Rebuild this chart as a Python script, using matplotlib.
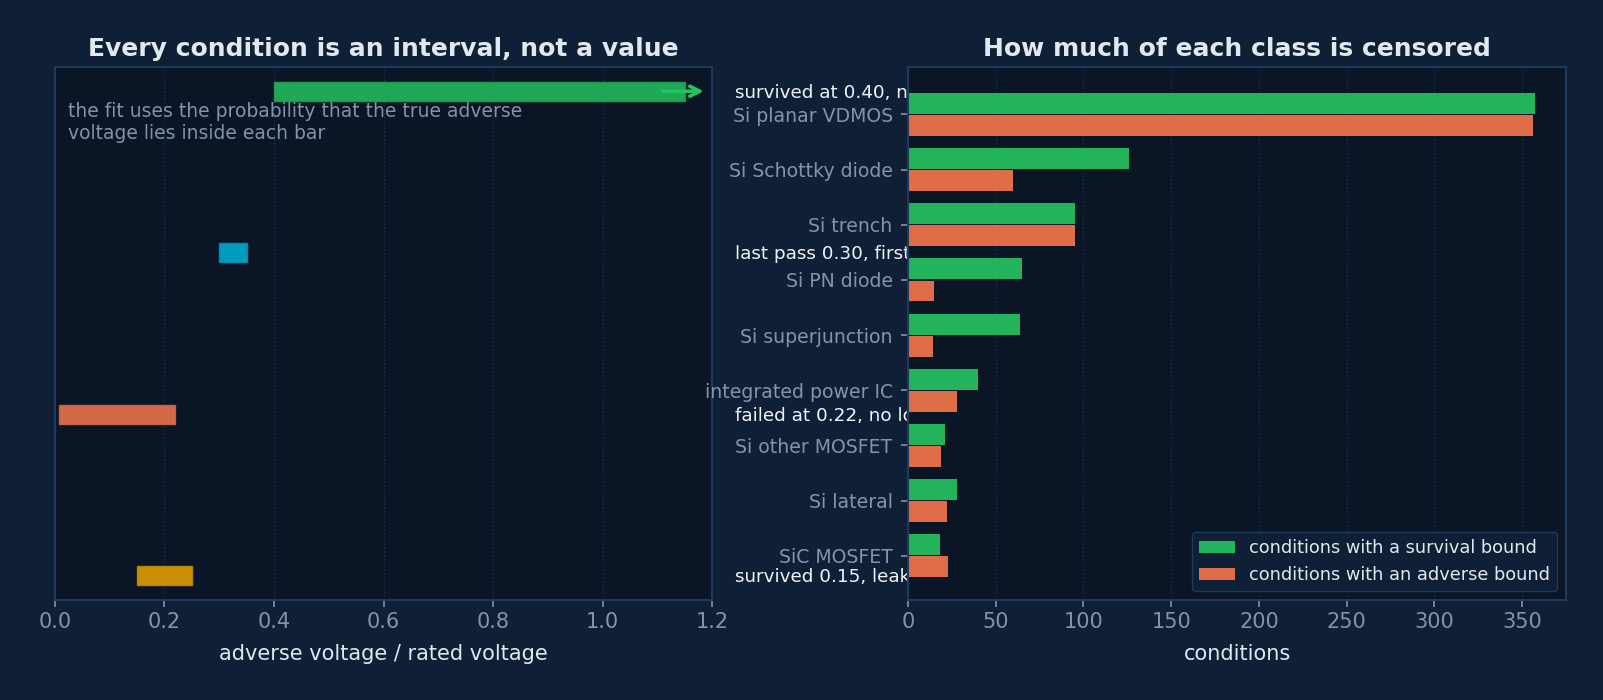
import matplotlib
matplotlib.use("Agg")
import matplotlib.pyplot as plt
import numpy as np

# left panel: one censored interval per condition
interval_lo = [0.40, 0.30, 0.008, 0.15]
interval_hi = [1.15, 0.35, 0.22, 0.25]
interval_colors = ["#1fa855", "#009bbd", "#d46948", "#cc8f06"]
interval_edges = ["#1c9a4e", "#008eae", "#c46143", "#bb8306"]
interval_text = ["survived at 0.40, no failure up to the test limit",
                 "last pass 0.30, first fail 0.35",
                 "failed at 0.22, no lower step tested",
                 "survived 0.15, leakage fail at 0.25"]
open_ended = [True, False, False, False]

# right panel: censoring counts per device class
classes = ["Si planar VDMOS", "Si Schottky diode", "Si trench", "Si PN diode",
           "Si superjunction", "integrated power IC", "Si other MOSFET",
           "Si lateral", "SiC MOSFET"]
survival_bound = [357, 126, 95, 65, 64, 40, 21, 28, 18]
adverse_bound = [356, 60, 95, 15, 14, 28, 19, 22, 23]

BG = "#0f1f35"
AX_BG = "#0a1526"
SPINE = "#1e3a5f"
TXT = "#e2e8f0"
MUTED = "#8393a8"

fig = plt.figure(figsize=(16.03, 7.0), dpi=100, facecolor=BG)
ax1 = fig.add_axes([0.0343, 0.1429, 0.4099, 0.7614])
ax2 = fig.add_axes([0.5664, 0.1429, 0.4106, 0.7614])

for ax in (ax1, ax2):
    ax.set_facecolor(AX_BG)
    for s in ax.spines.values():
        s.set_color(SPINE)
        s.set_linewidth(1.5)
    ax.tick_params(colors=MUTED, labelsize=15, length=5, width=1.2)
    ax.grid(axis="x", color=SPINE, linestyle=":", linewidth=1.0, alpha=0.8)
    ax.set_axisbelow(True)

# ---- left
ypos = np.arange(len(interval_lo))
widths = [h - l for l, h in zip(interval_lo, interval_hi)]
ax1.barh(ypos, widths, left=interval_lo, height=0.115,
         color=interval_colors, edgecolor=interval_edges, linewidth=1)
for i in range(len(ypos)):
    if open_ended[i]:
        ax1.annotate("", xy=(1.19, ypos[i]), xytext=(1.105, ypos[i]),
                     arrowprops=dict(arrowstyle="->", color="#22c55e", lw=2.6,
                                     mutation_scale=18),
                     annotation_clip=False)
    ax1.text(1.242, ypos[i] + 0.01, interval_text[i], color="#f1f5f9",
             fontsize=13.2, va="center", ha="left", clip_on=False)
ax1.set_xlim(0, 1.2)
ax1.set_ylim(3.15, -0.15)
ax1.set_yticks([])
ax1.set_xticks([0.0, 0.2, 0.4, 0.6, 0.8, 1.0, 1.2])
ax1.set_xlabel("adverse voltage / rated voltage", color=TXT, fontsize=15,
               labelpad=9)
ax1.set_title("Every condition is an interval, not a value", color=TXT,
              fontsize=18, fontweight="bold", pad=8)
ax1.text(0.02, 0.935, "the fit uses the probability that the true adverse\n"
         "voltage lies inside each bar", transform=ax1.transAxes,
         color=MUTED, fontsize=13.5, va="top", ha="left", linespacing=1.2)

# ---- right
y = np.arange(len(classes))
ax2.barh(y - 0.2, survival_bound, height=0.38, color="#22b35b",
         label="conditions with a survival bound")
ax2.barh(y + 0.2, adverse_bound, height=0.38, color="#df6d47",
         label="conditions with an adverse bound")
ax2.set_yticks(y)
ax2.set_yticklabels(classes, fontsize=13.6)
ax2.tick_params(axis="y", pad=6)
ax2.set_ylim(len(classes) - 0.2, -0.86)
ax2.set_xlim(0, 375)
ax2.set_xticks([0, 50, 100, 150, 200, 250, 300, 350])
ax2.set_xlabel("conditions", color=TXT, fontsize=15, labelpad=9)
ax2.set_title("How much of each class is censored", color=TXT,
              fontsize=18, fontweight="bold", pad=8)
leg = ax2.legend(loc="lower right", fontsize=12.8, facecolor=BG, edgecolor=SPINE,
                 labelcolor=TXT, framealpha=1)

fig.savefig("out.png", dpi=100, facecolor=BG)
